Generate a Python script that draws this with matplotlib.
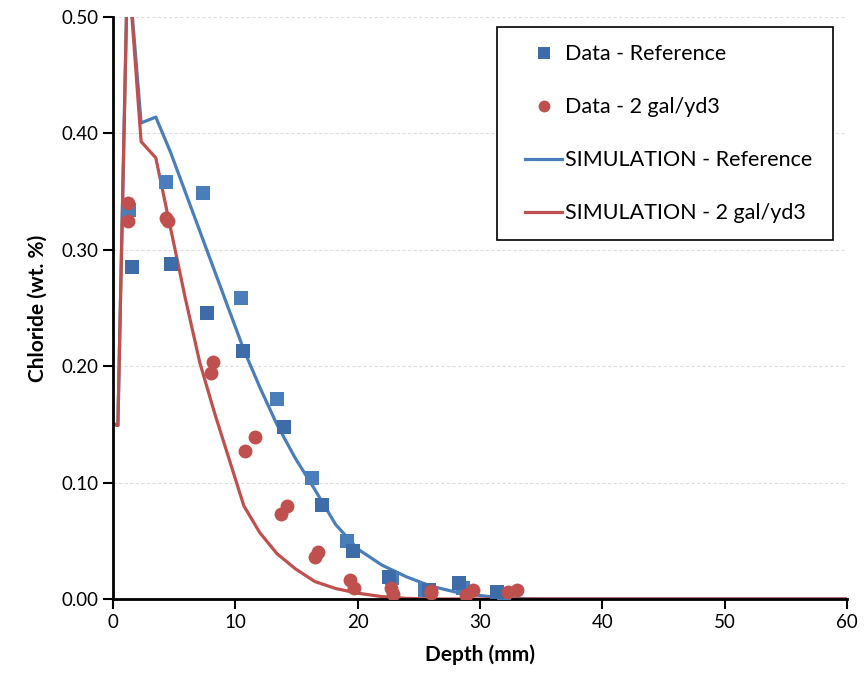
import matplotlib.pyplot as plt
from matplotlib.patches import Rectangle

plt.rcParams['font.family'] = ['Lato', 'DejaVu Sans']

# measured data - reference (two cores, two shades)
ref_a_depth = [1.3, 4.3, 7.4, 10.5, 13.4, 16.3, 19.1, 22.8, 25.5, 28.6, 32.0]
ref_a_cl = [0.334, 0.358, 0.349, 0.259, 0.172, 0.104, 0.050, 0.018, 0.008, 0.009, 0.003]
ref_b_depth = [1.55, 4.75, 7.7, 10.6, 14.0, 17.1, 19.6, 22.6, 25.8, 28.3, 31.4]
ref_b_cl = [0.285, 0.288, 0.246, 0.213, 0.148, 0.081, 0.041, 0.019, 0.008, 0.014, 0.006]

# measured data - 2 gal/yd3
inh_a_depth = [1.2, 4.3, 8.2, 11.6, 14.2, 16.8, 19.4, 22.7, 26.0, 29.4, 33.0]
inh_a_cl = [0.340, 0.327, 0.204, 0.139, 0.080, 0.040, 0.016, 0.009, 0.007, 0.008, 0.008]
inh_b_depth = [1.2, 4.5, 8.0, 10.8, 13.7, 16.5, 19.7, 22.9, 26.0, 28.9, 32.3]
inh_b_cl = [0.325, 0.325, 0.194, 0.127, 0.073, 0.036, 0.009, 0.004, 0.005, 0.003, 0.006]

# simulation profiles
sim_depth = [0, 0.4, 1.2, 2.3, 3.5, 4.7, 5.9, 7.1, 8.3, 9.5, 10.7, 12.0, 13.4, 14.9,
             16.5, 18.2, 20.0, 22.0, 24.0, 26.0, 28.0, 30.0, 32.0, 35, 40, 45, 50, 55, 60]
sim_ref = [0.150, 0.149, 0.55, 0.409, 0.414, 0.384, 0.350, 0.316, 0.282, 0.248, 0.214,
           0.182, 0.150, 0.121, 0.094, 0.064, 0.043, 0.029, 0.019, 0.011, 0.006, 0.003,
           0.0005, 0, 0, 0, 0, 0, 0]
sim_inh = [0.151, 0.149, 0.55, 0.393, 0.379, 0.319, 0.259, 0.203, 0.160, 0.120, 0.080,
           0.057, 0.039, 0.026, 0.015, 0.009, 0.005, 0.002, 0.0005, 0, 0, 0,
           0, 0, 0, 0, 0, 0, 0]

blue = '#4a7ebb'
blue_dark = '#3d6ca8'
red = '#c0504d'

fig = plt.figure(figsize=(8.65, 6.88), dpi=100)
ax = fig.add_axes([0.1306, 0.1294, 0.8485, 0.8459])

l1, = ax.plot(sim_depth, sim_ref, color=blue, lw=2.3, label='SIMULATION - Reference', zorder=2)
l2, = ax.plot(sim_depth, sim_inh, color=red, lw=2.3, label='SIMULATION - 2 gal/yd3', zorder=2)
ax.plot(ref_a_depth, ref_a_cl, 's', color=blue, ms=10.5, mew=0, zorder=3)
m1, = ax.plot(ref_b_depth, ref_b_cl, 's', color=blue_dark, ms=10.5, mew=0,
              label='Data - Reference', zorder=3)
m2, = ax.plot(inh_a_depth, inh_a_cl, 'o', color=red, ms=10, mew=0,
              label='Data - 2 gal/yd3', zorder=4)
ax.plot(inh_b_depth, inh_b_cl, 'o', color=red, ms=10, mew=0, zorder=4)

ax.set_xlim(0, 60)
ax.set_ylim(0, 0.5)
ax.set_xticks(range(0, 61, 10))
ax.set_yticks([0, 0.1, 0.2, 0.3, 0.4, 0.5])
ax.set_yticklabels(['%.2f' % v for v in [0, 0.1, 0.2, 0.3, 0.4, 0.5]])
ax.tick_params(labelsize=13.5, length=7, width=1.5, direction='out', colors='black')
ax.grid(axis='y', color='#dedede', ls=(0, (3, 2)), lw=0.8)
ax.set_axisbelow(True)
for s in ['top', 'right']:
    ax.spines[s].set_visible(False)
for s in ['left', 'bottom']:
    ax.spines[s].set_linewidth(2)

ax.set_xlabel('Depth (mm)', fontsize=15, fontweight='bold', labelpad=10)
ax.set_ylabel('Chloride (wt. %)', fontsize=15, fontweight='bold', labelpad=10)

# legend box drawn separately so the padding matches the original
ax.add_patch(Rectangle((0.523, 0.617), 0.458, 0.366, transform=ax.transAxes,
                       facecolor='white', edgecolor='black', lw=1.2, zorder=5,
                       clip_on=False))
leg = ax.legend(handles=[m1, m2, l1, l2], loc='upper left', bbox_to_anchor=(0.561, 0.953),
                fontsize=15.5, frameon=False, labelspacing=1.53, handlelength=1.75,
                handletextpad=0.12, borderpad=0, borderaxespad=0, markerscale=0.85)
leg.set_zorder(6)

fig.savefig('out.png', dpi=100)
